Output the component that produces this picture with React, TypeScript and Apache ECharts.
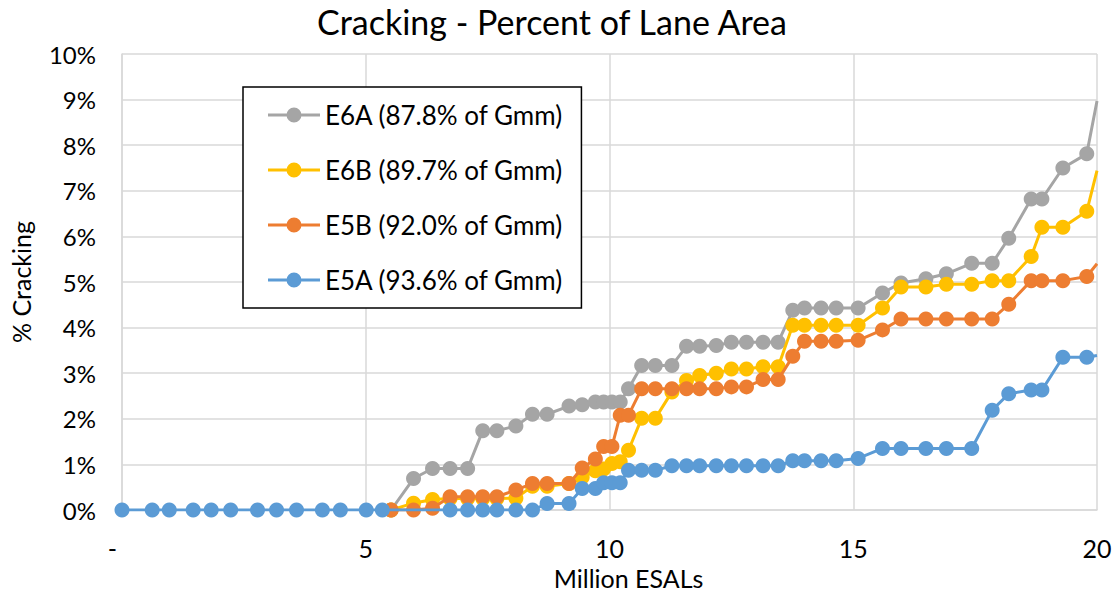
import React, { useEffect, useRef } from "react";
import * as echarts from "echarts";

// Million ESALs (x) — early survey points only recorded for E5A
const esalE5A = [0, 0.62, 0.97, 1.46, 1.83, 2.23, 2.78, 3.17, 3.58, 4.11, 4.48, 5.01, 5.34,
  6.73, 7.09, 7.40, 7.69, 8.08, 8.42, 8.72, 9.17, 9.44, 9.71, 9.88, 10.05, 10.22, 10.39, 10.66, 10.94,
  11.28, 11.58, 11.85, 12.19, 12.50, 12.81, 13.15, 13.46, 13.76, 14.00, 14.34, 14.65, 15.10, 15.60,
  15.98, 16.49, 16.91, 17.43, 17.85, 18.19, 18.65, 18.87, 19.30, 19.79, 20.0];
const esalOthers = [5.52, 5.98, 6.37, 6.73, 7.09, 7.40, 7.69, 8.08, 8.42, 8.72, 9.17, 9.44, 9.71, 9.88,
  10.05, 10.22, 10.39, 10.66, 10.94, 11.28, 11.58, 11.85, 12.19, 12.50, 12.81, 13.15, 13.46, 13.76,
  14.00, 14.34, 14.65, 15.10, 15.60, 15.98, 16.49, 16.91, 17.43, 17.85, 18.19, 18.65, 18.87, 19.30,
  19.79, 20.0];

// % cracking
const e6a = [0, 0.69, 0.91, 0.91, 0.91, 1.74, 1.74, 1.84, 2.10, 2.10, 2.28, 2.31, 2.37, 2.37, 2.37, 2.37,
  2.66, 3.17, 3.17, 3.17, 3.59, 3.59, 3.61, 3.68, 3.68, 3.68, 3.68, 4.38, 4.43, 4.43, 4.43, 4.43, 4.76,
  4.98, 5.07, 5.18, 5.41, 5.41, 5.96, 6.82, 6.82, 7.50, 7.81, 8.97];
const e6b = [0, 0.15, 0.23, 0.25, 0.25, 0.25, 0.25, 0.26, 0.52, 0.52, 0.58, 0.72, 0.86, 0.90, 1.02, 1.06,
  1.31, 2.01, 2.01, 2.59, 2.84, 2.95, 3.00, 3.09, 3.09, 3.14, 3.14, 4.05, 4.05, 4.05, 4.05, 4.05, 4.43,
  4.89, 4.89, 4.95, 4.95, 5.03, 5.03, 5.56, 6.20, 6.20, 6.55, 7.44];
const e5b = [0, 0, 0.04, 0.29, 0.29, 0.29, 0.29, 0.44, 0.58, 0.58, 0.58, 0.92, 1.12, 1.39, 1.39, 2.08,
  2.08, 2.66, 2.66, 2.66, 2.66, 2.66, 2.66, 2.70, 2.70, 2.86, 2.86, 3.37, 3.70, 3.70, 3.70, 3.72, 3.95,
  4.19, 4.19, 4.19, 4.19, 4.19, 4.51, 5.03, 5.03, 5.03, 5.12, 5.40];
const e5a = [0, 0, 0, 0, 0, 0, 0, 0, 0, 0, 0, 0, 0,
  0, 0, 0, 0, 0, 0, 0.14, 0.14, 0.47, 0.47, 0.60, 0.60, 0.60, 0.87, 0.87, 0.87, 0.97, 0.97, 0.97, 0.97,
  0.97, 0.97, 0.97, 0.97, 1.08, 1.08, 1.08, 1.08, 1.13, 1.35, 1.35, 1.35, 1.35, 1.35, 2.19, 2.55, 2.63,
  2.63, 3.35, 3.35, 3.39];

const seriesNames = ["E6A (87.8% of Gmm)", "E6B (89.7% of Gmm)", "E5B (92.0% of Gmm)", "E5A (93.6% of Gmm)"];
const seriesColors = ["#A5A5A5", "#FFC000", "#ED7D31", "#5B9BD5"];
const xTicks = [0, 5, 10, 15, 20];
const yTicks = [0, 1, 2, 3, 4, 5, 6, 7, 8, 9, 10];

const FONT = "Lato";
// legend key: a 3px line with a round marker in the middle (52 x 15 box)
const LEGEND_ICON =
  "path://M0,6h52v3h-52z M18.5,7.5a7.5,7.5 0 1,1 15,0a7.5,7.5 0 1,1 -15,0z";

function pairs(xs: number[], ys: number[]) {
  return ys.map((y, i) => {
    const item: any = { value: [xs[i], y] };
    // the last point sits on the plot edge where the line is cut off
    if (i === ys.length - 1) item.symbol = "none";
    return item;
  });
}

export default function App() {
  const ref = useRef<HTMLDivElement>(null);
  useEffect(() => {
    if (!ref.current) return;
    const chart = echarts.init(ref.current, undefined, { renderer: "svg" });
    const xs = [esalOthers, esalOthers, esalOthers, esalE5A];
    const ys = [e6a, e6b, e5b, e5a];
    chart.setOption({
      animation: false,
      backgroundColor: "#ffffff",
      textStyle: { fontFamily: FONT },
      title: {
        text: "Cracking - Percent of Lane Area",
        left: 552,
        textAlign: "center",
        top: 3,
        padding: 0,
        textStyle: { fontFamily: FONT, fontSize: 34, lineHeight: 36, fontWeight: "normal", color: "#000" },
      },
      grid: { left: 119, right: 19, top: 54, bottom: 86, containLabel: false },
      legend: {
        left: 243,
        top: 87,
        orient: "vertical",
        data: seriesNames.map((n) => ({ name: n, icon: LEGEND_ICON })),
        itemWidth: 52,
        itemHeight: 15,
        itemGap: 29,
        padding: [15, 18, 15, 25],
        borderColor: "#000",
        borderWidth: 1.5,
        backgroundColor: "#fff",
        itemStyle: { borderWidth: 0 },
        textStyle: { fontFamily: FONT, fontSize: 26, color: "#000" },
      },
      xAxis: {
        type: "value",
        min: 0,
        max: 20,
        interval: 5,
        name: "Million ESALs",
        nameLocation: "middle",
        nameGap: 55,
        nameTextStyle: { fontFamily: FONT, fontSize: 25, color: "#000", padding: [0, 0, 0, 38] },
        axisLine: { show: true, lineStyle: { color: "#d9d9d9", width: 1.5 } },
        axisTick: { show: false },
        splitLine: { show: true, lineStyle: { color: "#d9d9d9", width: 1.5 } },
        axisLabel: {
          margin: 25,
          fontFamily: FONT,
          fontSize: 25,
          color: "#000",
          customValues: xTicks,
          formatter: (v: number) => (v === 0 ? "-   " : String(v)),
        },
      },
      yAxis: {
        type: "value",
        min: 0,
        max: 10,
        interval: 1,
        name: "% Cracking",
        nameLocation: "middle",
        nameGap: 89,
        nameTextStyle: { fontFamily: FONT, fontSize: 25, color: "#000" },
        axisLine: { show: true, lineStyle: { color: "#d9d9d9", width: 1.5 } },
        axisTick: { show: false },
        splitLine: { show: true, lineStyle: { color: "#d9d9d9", width: 1.5 } },
        axisLabel: {
          margin: 26,
          fontFamily: FONT,
          fontSize: 24,
          color: "#000",
          customValues: yTicks,
          formatter: (v: number) => v + "%",
        },
      },
      series: seriesNames.map((name, k) => ({
        name,
        type: "line",
        data: pairs(xs[k], ys[k]),
        symbol: "circle",
        symbolSize: 15,
        showSymbol: true,
        clip: true,
        color: seriesColors[k],
        lineStyle: { width: 3, color: seriesColors[k] },
        itemStyle: { color: seriesColors[k] },
        z: 2 + k,
      })),
    });
    return () => chart.dispose();
  }, []);
  return (
    <div
      ref={ref}
      style={{ position: "fixed", left: 0, top: 0, width: 1116, height: 596, background: "#fff" }}
    />
  );
}
